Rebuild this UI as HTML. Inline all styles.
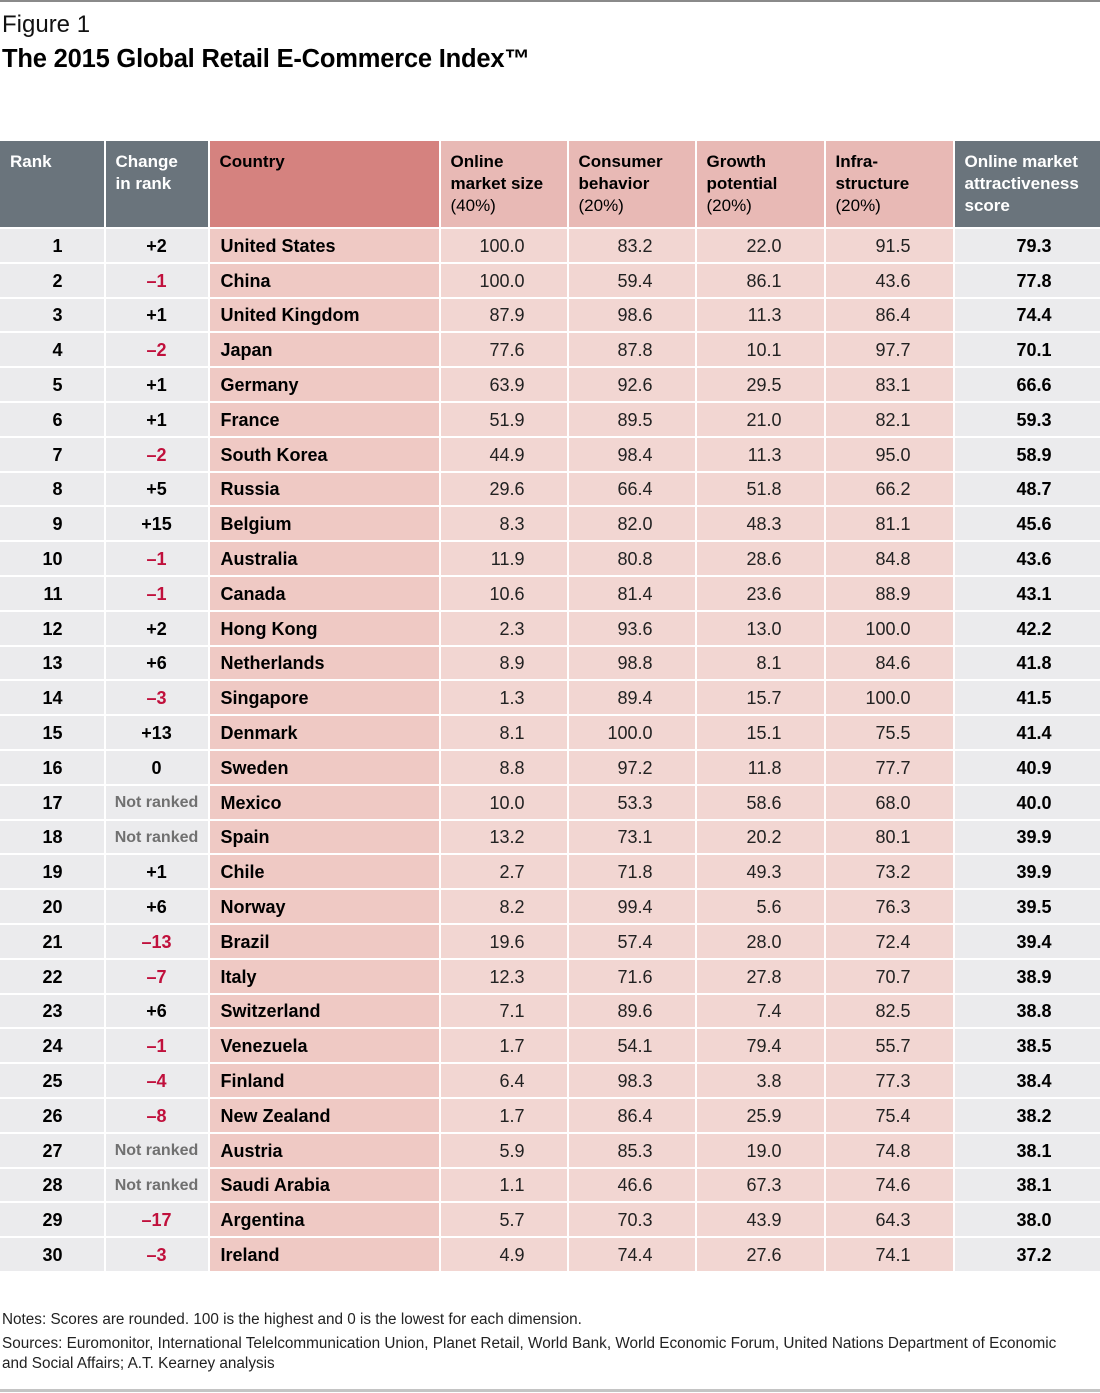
<!DOCTYPE html>
<html><head><meta charset="utf-8"><style>
body{margin:0;width:1100px;height:1393px;background:#fff;font-family:"Liberation Sans",sans-serif;position:relative;overflow:hidden}
.top{position:absolute;left:0;top:0;width:1100px;height:2px;background:#8a8a8a}
.bot{position:absolute;left:0;top:1389px;width:1100px;height:3px;background:#c4c4c4}
.fig{position:absolute;left:2px;top:11px;font-size:24px;color:#111}
.ttl{position:absolute;left:2px;top:45px;font-size:25.5px;font-weight:bold;color:#000;letter-spacing:-0.2px}
table{position:absolute;left:-2px;top:139px;border-collapse:separate;border-spacing:2px;table-layout:fixed;width:1104px}
td,th{padding:0;font-size:18px;white-space:nowrap;overflow:hidden}
th{height:86px;vertical-align:top;text-align:left;font-size:17px;line-height:22px;padding:10px 0 0 10px;box-sizing:border-box}
th span{font-weight:normal}
th.g{background:#6a747c;color:#fff}
th.c{background:#d5827f;color:#000}
th.p{background:#e8b9b5;color:#000}
td{height:32.8px;box-sizing:border-box;padding-top:2px}
td.r{background:#ebebed;font-weight:bold;text-align:right;padding-right:41px}
td.ch{background:#ebebed;font-weight:bold;text-align:center}
td.n{background:#efc9c4;font-weight:bold;padding-left:11px}
td.v{background:#f2d6d2;text-align:right;padding-right:42px;color:#222}
td.s{background:#ebebed;font-weight:bold;text-align:right;padding-right:50px}
.m{color:#c0103c}
.nr{color:#707070;font-size:16px}
.notes{position:absolute;left:2px;top:1310px;font-size:15.3px;color:#222;line-height:20px}
</style></head><body>
<div class="top"></div>
<div class="fig">Figure 1</div>
<div class="ttl">The 2015 Global Retail E-Commerce Index™</div>
<table>
<colgroup><col style="width:103.5px"><col style="width:102px"><col style="width:229px"><col style="width:126px"><col style="width:126px"><col style="width:127px"><col style="width:127px"><col style="width:147px"></colgroup>
<tr><th class="g">Rank</th><th class="g">Change<br>in rank</th><th class="c">Country</th><th class="p">Online<br>market size<br><span>(40%)</span></th><th class="p">Consumer<br>behavior<br><span>(20%)</span></th><th class="p">Growth<br>potential<br><span>(20%)</span></th><th class="p">Infra-<br>structure<br><span>(20%)</span></th><th class="g">Online market<br>attractiveness<br>score</th></tr>
<tr><td class="r">1</td><td class="ch">+2</td><td class="n">United States</td><td class="v">100.0</td><td class="v">83.2</td><td class="v">22.0</td><td class="v">91.5</td><td class="s">79.3</td></tr>
<tr><td class="r">2</td><td class="ch m">–1</td><td class="n">China</td><td class="v">100.0</td><td class="v">59.4</td><td class="v">86.1</td><td class="v">43.6</td><td class="s">77.8</td></tr>
<tr><td class="r">3</td><td class="ch">+1</td><td class="n">United Kingdom</td><td class="v">87.9</td><td class="v">98.6</td><td class="v">11.3</td><td class="v">86.4</td><td class="s">74.4</td></tr>
<tr><td class="r">4</td><td class="ch m">–2</td><td class="n">Japan</td><td class="v">77.6</td><td class="v">87.8</td><td class="v">10.1</td><td class="v">97.7</td><td class="s">70.1</td></tr>
<tr><td class="r">5</td><td class="ch">+1</td><td class="n">Germany</td><td class="v">63.9</td><td class="v">92.6</td><td class="v">29.5</td><td class="v">83.1</td><td class="s">66.6</td></tr>
<tr><td class="r">6</td><td class="ch">+1</td><td class="n">France</td><td class="v">51.9</td><td class="v">89.5</td><td class="v">21.0</td><td class="v">82.1</td><td class="s">59.3</td></tr>
<tr><td class="r">7</td><td class="ch m">–2</td><td class="n">South Korea</td><td class="v">44.9</td><td class="v">98.4</td><td class="v">11.3</td><td class="v">95.0</td><td class="s">58.9</td></tr>
<tr><td class="r">8</td><td class="ch">+5</td><td class="n">Russia</td><td class="v">29.6</td><td class="v">66.4</td><td class="v">51.8</td><td class="v">66.2</td><td class="s">48.7</td></tr>
<tr><td class="r">9</td><td class="ch">+15</td><td class="n">Belgium</td><td class="v">8.3</td><td class="v">82.0</td><td class="v">48.3</td><td class="v">81.1</td><td class="s">45.6</td></tr>
<tr><td class="r">10</td><td class="ch m">–1</td><td class="n">Australia</td><td class="v">11.9</td><td class="v">80.8</td><td class="v">28.6</td><td class="v">84.8</td><td class="s">43.6</td></tr>
<tr><td class="r">11</td><td class="ch m">–1</td><td class="n">Canada</td><td class="v">10.6</td><td class="v">81.4</td><td class="v">23.6</td><td class="v">88.9</td><td class="s">43.1</td></tr>
<tr><td class="r">12</td><td class="ch">+2</td><td class="n">Hong Kong</td><td class="v">2.3</td><td class="v">93.6</td><td class="v">13.0</td><td class="v">100.0</td><td class="s">42.2</td></tr>
<tr><td class="r">13</td><td class="ch">+6</td><td class="n">Netherlands</td><td class="v">8.9</td><td class="v">98.8</td><td class="v">8.1</td><td class="v">84.6</td><td class="s">41.8</td></tr>
<tr><td class="r">14</td><td class="ch m">–3</td><td class="n">Singapore</td><td class="v">1.3</td><td class="v">89.4</td><td class="v">15.7</td><td class="v">100.0</td><td class="s">41.5</td></tr>
<tr><td class="r">15</td><td class="ch">+13</td><td class="n">Denmark</td><td class="v">8.1</td><td class="v">100.0</td><td class="v">15.1</td><td class="v">75.5</td><td class="s">41.4</td></tr>
<tr><td class="r">16</td><td class="ch">0</td><td class="n">Sweden</td><td class="v">8.8</td><td class="v">97.2</td><td class="v">11.8</td><td class="v">77.7</td><td class="s">40.9</td></tr>
<tr><td class="r">17</td><td class="ch nr">Not ranked</td><td class="n">Mexico</td><td class="v">10.0</td><td class="v">53.3</td><td class="v">58.6</td><td class="v">68.0</td><td class="s">40.0</td></tr>
<tr><td class="r">18</td><td class="ch nr">Not ranked</td><td class="n">Spain</td><td class="v">13.2</td><td class="v">73.1</td><td class="v">20.2</td><td class="v">80.1</td><td class="s">39.9</td></tr>
<tr><td class="r">19</td><td class="ch">+1</td><td class="n">Chile</td><td class="v">2.7</td><td class="v">71.8</td><td class="v">49.3</td><td class="v">73.2</td><td class="s">39.9</td></tr>
<tr><td class="r">20</td><td class="ch">+6</td><td class="n">Norway</td><td class="v">8.2</td><td class="v">99.4</td><td class="v">5.6</td><td class="v">76.3</td><td class="s">39.5</td></tr>
<tr><td class="r">21</td><td class="ch m">–13</td><td class="n">Brazil</td><td class="v">19.6</td><td class="v">57.4</td><td class="v">28.0</td><td class="v">72.4</td><td class="s">39.4</td></tr>
<tr><td class="r">22</td><td class="ch m">–7</td><td class="n">Italy</td><td class="v">12.3</td><td class="v">71.6</td><td class="v">27.8</td><td class="v">70.7</td><td class="s">38.9</td></tr>
<tr><td class="r">23</td><td class="ch">+6</td><td class="n">Switzerland</td><td class="v">7.1</td><td class="v">89.6</td><td class="v">7.4</td><td class="v">82.5</td><td class="s">38.8</td></tr>
<tr><td class="r">24</td><td class="ch m">–1</td><td class="n">Venezuela</td><td class="v">1.7</td><td class="v">54.1</td><td class="v">79.4</td><td class="v">55.7</td><td class="s">38.5</td></tr>
<tr><td class="r">25</td><td class="ch m">–4</td><td class="n">Finland</td><td class="v">6.4</td><td class="v">98.3</td><td class="v">3.8</td><td class="v">77.3</td><td class="s">38.4</td></tr>
<tr><td class="r">26</td><td class="ch m">–8</td><td class="n">New Zealand</td><td class="v">1.7</td><td class="v">86.4</td><td class="v">25.9</td><td class="v">75.4</td><td class="s">38.2</td></tr>
<tr><td class="r">27</td><td class="ch nr">Not ranked</td><td class="n">Austria</td><td class="v">5.9</td><td class="v">85.3</td><td class="v">19.0</td><td class="v">74.8</td><td class="s">38.1</td></tr>
<tr><td class="r">28</td><td class="ch nr">Not ranked</td><td class="n">Saudi Arabia</td><td class="v">1.1</td><td class="v">46.6</td><td class="v">67.3</td><td class="v">74.6</td><td class="s">38.1</td></tr>
<tr><td class="r">29</td><td class="ch m">–17</td><td class="n">Argentina</td><td class="v">5.7</td><td class="v">70.3</td><td class="v">43.9</td><td class="v">64.3</td><td class="s">38.0</td></tr>
<tr><td class="r">30</td><td class="ch m">–3</td><td class="n">Ireland</td><td class="v">4.9</td><td class="v">74.4</td><td class="v">27.6</td><td class="v">74.1</td><td class="s">37.2</td></tr>
</table>
<div class="notes">Notes: Scores are rounded. 100 is the highest and 0 is the lowest for each dimension.<br><div style="height:4px"></div>Sources: Euromonitor, International Telelcommunication Union, Planet Retail, World Bank, World Economic Forum, United Nations Department of Economic<br>and Social Affairs; A.T. Kearney analysis</div>
<div class="bot"></div>
</body></html>
